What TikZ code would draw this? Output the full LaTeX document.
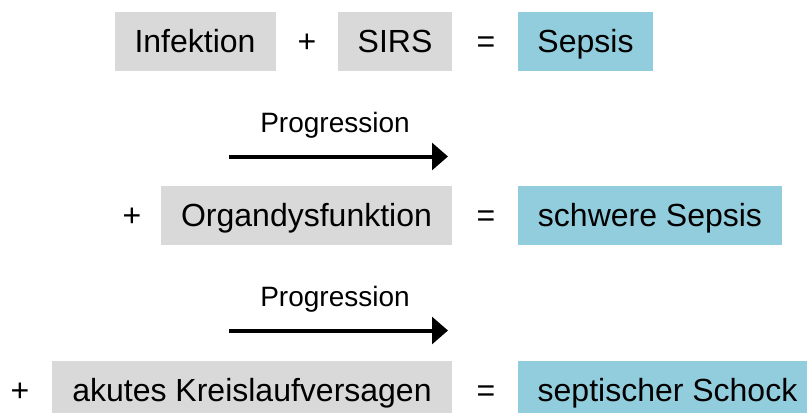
\documentclass[tikz,border=0pt]{standalone}
\usepackage{fontspec}
\setmainfont{Liberation Sans}
\usetikzlibrary{arrows.meta}

\newlength{\du}
\setlength{\du}{0.75pt}

\definecolor{boxgrey}{RGB}{217,217,217}
\definecolor{boxblue}{RGB}{146,205,221}

\tikzset{
  termbox/.style={fill=#1, inner sep=0pt, minimum height=59\du,
    font=\fontsize{24}{28}\selectfont, text height=17.2pt, text depth=0pt},
  optext/.style={inner sep=0pt, font=\fontsize{24}{28}\selectfont,
    text height=17.2pt, text depth=0pt},
  proglabel/.style={inner sep=0pt, font=\fontsize{21}{25}\selectfont,
    text height=15pt, text depth=0pt},
  progarrow/.style={line width=3pt, -{Triangle[length=12pt,width=20pt]}}
}

\begin{document}
\begin{tikzpicture}
\pgftransformyscale{-1.000000}
\useasboundingbox (0\du,0\du) rectangle (807\du,412\du);
% first line
\node[termbox=boxgrey, minimum width=161\du] (infektion) at (195\du,41.5\du){Infektion};
\node[optext] (plusA) at (307\du,41.5\du){+};
\node[termbox=boxgrey, minimum width=114\du] (sirs) at (395\du,41.5\du){SIRS};
\node[optext] (eqA) at (486\du,41.5\du){=};
\node[termbox=boxblue, minimum width=135\du] (sepsis) at (585.5\du,41.5\du){Sepsis};
% progression
\coordinate (progAs) at (229\du,156.5\du);
\coordinate (progAe) at (448\du,156.5\du);
\draw[progarrow] (progAs)--(progAe);
\node[proglabel] (progA) at (335\du,122.5\du){Progression};
% second line
\node[optext] (plusB) at (132\du,215.5\du){+};
\node[termbox=boxgrey, minimum width=291\du] (organ) at (306.5\du,215.5\du){Organdysfunktion};
\node[optext] (eqB) at (486\du,215.5\du){=};
\node[termbox=boxblue, minimum width=264\du] (schwer) at (650\du,215.5\du){schwere Sepsis};
% progression
\coordinate (progBs) at (229\du,330.5\du);
\coordinate (progBe) at (448\du,330.5\du);
\draw[progarrow] (progBs)--(progBe);
\node[proglabel] (progB) at (335\du,296.5\du){Progression};
% third line
\node[optext] (plusC) at (20\du,390.5\du){+};
\node[termbox=boxgrey, minimum width=400\du] (kreislauf) at (252\du,390.5\du){akutes Kreislaufversagen};
\node[optext] (eqC) at (486\du,390.5\du){=};
\node[termbox=boxblue, minimum width=299\du] (schock) at (667.5\du,390.5\du){septischer Schock};
\end{tikzpicture}
\end{document}
